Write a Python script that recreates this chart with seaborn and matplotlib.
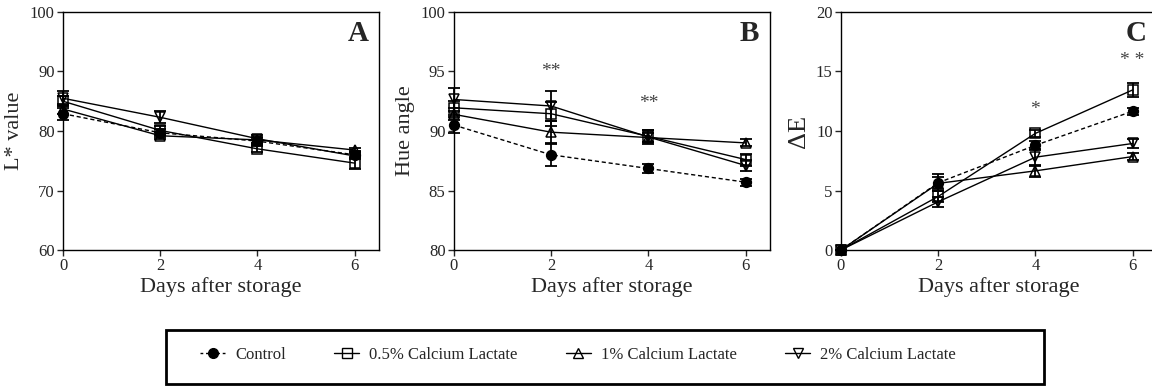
import matplotlib
matplotlib.use("Agg")
import matplotlib.pyplot as plt
import seaborn as sns
import pandas as pd
from matplotlib.lines import Line2D
from matplotlib.patches import Rectangle

# --- data ---
days = [0, 2, 4, 6]
groups = ["Control", "0.5% Calcium Lactate", "1% Calcium Lactate", "2% Calcium Lactate"]

# L* value (A)
l_control = [82.9, 79.7, 78.3, 76.0]
l_ca05 = [85.0, 80.1, 77.0, 74.6]
l_ca1 = [83.7, 79.2, 78.5, 76.8]
l_ca2 = [85.5, 82.3, 78.7, 75.8]
l_err_control = [1.0, 0.7, 0.6, 0.6]
l_err_ca05 = [0.8, 0.8, 0.5, 1.0]
l_err_ca1 = [0.8, 0.6, 0.5, 0.4]
l_err_ca2 = [1.2, 1.0, 0.7, 0.5]

# Hue angle (B)
h_control = [90.5, 88.0, 86.85, 85.7]
h_ca05 = [91.95, 91.45, 89.55, 87.6]
h_ca1 = [91.4, 89.9, 89.45, 89.0]
h_ca2 = [92.65, 92.1, 89.5, 87.1]
h_err_control = [0.7, 0.9, 0.4, 0.3]
h_err_ca05 = [0.6, 1.0, 0.5, 0.5]
h_err_ca1 = [0.5, 0.9, 0.4, 0.3]
h_err_ca2 = [1.0, 1.3, 0.6, 0.5]

# Delta E (C)
e_control = [0.0, 5.65, 8.8, 11.66]
e_ca05 = [0.0, 4.5, 9.8, 13.45]
e_ca1 = [0.0, 5.6, 6.65, 7.85]
e_ca2 = [0.0, 4.05, 7.8, 8.95]
e_err_control = [0.0, 0.7, 0.4, 0.3]
e_err_ca05 = [0.0, 0.5, 0.3, 0.6]
e_err_ca1 = [0.0, 0.5, 0.5, 0.3]
e_err_ca2 = [0.0, 0.4, 0.7, 0.4]

# significance marks: (day, y, text)
stars_b = [(2, 95.0, "**"), (4, 92.3, "**")]
stars_c = [(4, 11.8, "*"), (6, 15.9, "* *")]

# --- style ---
sns.set_style("ticks")
plt.rcParams["font.family"] = ["Liberation Serif", "DejaVu Serif"]

markers = {"Control": "o", "0.5% Calcium Lactate": "s",
           "1% Calcium Lactate": "^", "2% Calcium Lactate": "v"}


def draw_panel(ax, series, errors, ylim, yticks, ylabel, letter, stars=(), lab_size=16):
    for g, vals, err in zip(groups, series, errors):
        df = pd.DataFrame({"day": days, "val": vals})
        m = markers[g]
        is_ctrl = g == "Control"
        sns.lineplot(data=df, x="day", y="val", ax=ax, color="black",
                     marker=m, markersize=7,
                     markerfacecolor="black" if is_ctrl else "none",
                     markeredgecolor="black", markeredgewidth=1.1,
                     linewidth=1.0, linestyle=(0, (3, 2)) if is_ctrl else "-",
                     clip_on=False, zorder=3)
        ax.errorbar(days, vals, yerr=err, fmt="none", ecolor="black",
                    elinewidth=1.3, capsize=4, capthick=1.3, clip_on=False, zorder=2)
    ax.set_xlim(0, 6.5)
    ax.set_ylim(*ylim)
    ax.set_xticks([0, 2, 4, 6])
    ax.set_yticks(yticks)
    ax.set_xlabel("Days after storage", fontsize=16, labelpad=2)
    ax.set_ylabel(ylabel, fontsize=lab_size, labelpad=4)
    ax.tick_params(labelsize=12, length=4, width=1, direction="out", pad=2)
    for s in ax.spines.values():
        s.set_linewidth(1.0)
        s.set_color("black")
    ax.text(0.935, 0.91, letter, transform=ax.transAxes, fontsize=21,
            fontweight="bold", ha="center", va="center")
    for x, y, t in stars:
        ax.text(x, y, t, ha="center", va="center", fontsize=14, color="#444444")


fig = plt.figure(figsize=(11.52, 3.87), dpi=100)
w, h, b = 0.2743, 0.615, 0.354
ax_a = fig.add_axes([0.0547, b, w, h])
ax_b = fig.add_axes([0.394, b, w, h])
ax_c = fig.add_axes([0.730, b, w, h])

draw_panel(ax_a, [l_control, l_ca05, l_ca1, l_ca2],
           [l_err_control, l_err_ca05, l_err_ca1, l_err_ca2],
           (60, 100), [60, 70, 80, 90, 100], "L* value", "A")
draw_panel(ax_b, [h_control, h_ca05, h_ca1, h_ca2],
           [h_err_control, h_err_ca05, h_err_ca1, h_err_ca2],
           (80, 100), [80, 85, 90, 95, 100], "Hue angle", "B", stars_b)
draw_panel(ax_c, [e_control, e_ca05, e_ca1, e_ca2],
           [e_err_control, e_err_ca05, e_err_ca1, e_err_ca2],
           (0, 20), [0, 5, 10, 15, 20], "ΔE", "C", stars_c, lab_size=19)

# shared legend, with a separate box drawn around it
handles = []
for g in groups:
    m = markers[g]
    is_ctrl = g == "Control"
    handles.append(Line2D([], [], color="black", marker=m, markersize=7,
                          markerfacecolor="black" if is_ctrl else "none",
                          markeredgecolor="black", linewidth=1.0,
                          linestyle=(0, (2, 2)) if is_ctrl else "-"))
fig.legend(handles, groups, loc="center left", ncol=4,
           bbox_to_anchor=(0.168, 0.083), fontsize=12, frameon=False,
           handlelength=1.5, handletextpad=0.6, columnspacing=2.9,
           borderaxespad=0)
fig.patches.append(Rectangle((0.144, 0.007), 0.762, 0.140, transform=fig.transFigure,
                             fill=False, edgecolor="black", linewidth=2.0))

plt.savefig("out.png", dpi=100)
